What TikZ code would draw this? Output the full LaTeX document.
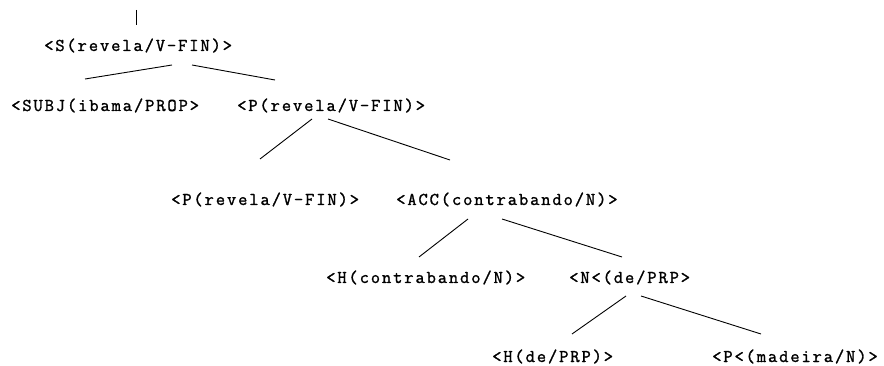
\documentclass[tikz,border=0pt]{standalone}
\usepackage{fontspec}
\setmonofont[LetterSpace=10.5,FakeBold=1.4]{Latin Modern Mono}
\begin{document}
\begin{tikzpicture}[x=1pt,y=-1pt,
  cat/.style={font=\ttfamily\fontsize{18}{18}\selectfont, inner sep=0pt, anchor=base west},
  edge/.style={line width=0.9pt, black}]
\useasboundingbox (0,0) rectangle (884,366);

% nodes of the parse tree (left end of each label, on its baseline)
\node[cat] (s)    at (44,51)   {<S(revela/V-FIN)>};
\node[cat] (subj) at (11,111)  {<SUBJ(ibama/PROP>};
\node[cat] (p1)   at (237,111) {<P(revela/V-FIN)>};
\node[cat] (p2)   at (171,205) {<P(revela/V-FIN)>};
\node[cat] (acc)  at (396,205) {<ACC(contrabando/N)>};
\node[cat] (h1)   at (326,283) {<H(contrabando/N)>};
\node[cat] (n)    at (569,283) {<N<(de/PRP>};
\node[cat] (h2)   at (492,362) {<H(de/PRP)>};
\node[cat] (p3)   at (712,362) {<P<(madeira/N)>};

% end points of the branches
\coordinate (root) at (136,10);  \coordinate (rootend) at (136,25);
\coordinate (s-l) at (172,65);   \coordinate (subj-t) at (85,79);
\coordinate (s-r) at (192,65);   \coordinate (p1-t) at (275,80);
\coordinate (p1-l) at (312,119); \coordinate (p2-t) at (260,159);
\coordinate (p1-r) at (328,119); \coordinate (acc-t) at (450,160);
\coordinate (acc-l) at (468,219); \coordinate (h1-t) at (419,257);
\coordinate (acc-r) at (502,219); \coordinate (n-t) at (622,257);
\coordinate (n-l) at (626,296); \coordinate (h2-t) at (572,334);
\coordinate (n-r) at (641,296); \coordinate (p3-t) at (761,334);

\draw[edge] (root) -- (rootend);
\draw[edge] (s-l) -- (subj-t);
\draw[edge] (s-r) -- (p1-t);
\draw[edge] (p1-l) -- (p2-t);
\draw[edge] (p1-r) -- (acc-t);
\draw[edge] (acc-l) -- (h1-t);
\draw[edge] (acc-r) -- (n-t);
\draw[edge] (n-l) -- (h2-t);
\draw[edge] (n-r) -- (p3-t);
\end{tikzpicture}
\end{document}
